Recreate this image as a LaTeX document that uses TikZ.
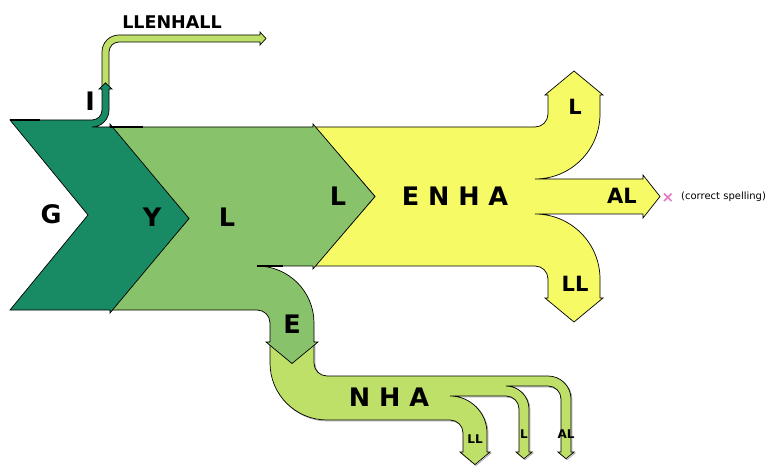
\documentclass[tikz,border=0pt]{standalone}
\usepackage{fontspec}
\setmainfont{DejaVu Sans}
\definecolor{dkgreen}{HTML}{188A64}
\definecolor{mdgreen}{HTML}{88C26A}
\definecolor{yel}{HTML}{F6FA64}
\definecolor{ltgreen}{HTML}{BFE068}
\definecolor{pinkx}{HTML}{E377C2}
\tikzset{
  flow/.style={draw=black, line width=0.7pt, line join=miter},
  big/.style={inner sep=0pt, font=\bfseries\fontsize{25.5}{25.5}\selectfont},
  mid/.style={inner sep=0pt, font=\bfseries\fontsize{21}{21}\selectfont},
  sml/.style={inner sep=0pt, font=\bfseries\fontsize{12}{12}\selectfont},
  thk/.style={draw=black, line width=1.6pt},
}
\newcommand\nhapath{(270,342) -- (292,363) -- (314,342) -- (314,363)
  .. controls (314,370.2) and (319.8,376) .. (327,376) -- (548,376)
  .. controls (560.7,376) and (571,386.3) .. (571,399) -- (571,452) -- (574,452) -- (566,458.7) -- (558,452) -- (561,452) -- (561,399)
  .. controls (561,391.8) and (555.2,386) .. (548,386) -- (506,386)
  .. controls (518.7,386) and (529,396.3) .. (529,409) -- (529,452) -- (532,452) -- (524,458.7) -- (516,452) -- (519,452) -- (519,409)
  .. controls (519,401.8) and (513.2,396) .. (506,396) -- (450,396)
  .. controls (470.4,396) and (487,412.6) .. (487,433) -- (487,452) -- (490,452) -- (475,464.6) -- (460,452) -- (463,452) -- (463,433)
  .. controls (463,425.8) and (457.2,420) .. (450,420) -- (327,420)
  .. controls (295.5,420) and (270,394.5) .. (270,363) -- cycle}
\begin{document}
\begin{tikzpicture}[x=1pt,y=-1pt]
\useasboundingbox (0,0) rectangle (772,476);
% LLENHALL flow (light green)
\path[flow, fill=ltgreen] (102,89) -- (102,52) .. controls (102,42.6) and (109.6,35) .. (119,35) -- (260,35) -- (260,32) -- (266,38.5) -- (260,45) -- (260,42) -- (119,42) .. controls (113.5,42) and (109,46.5) .. (109,52) -- (109,89) -- (105.5,83) -- cycle;
% NHA flow (light green) with faint shadow
\path[draw=black!35, line width=0.8pt, shift={(1,1)}] \nhapath;
\path[flow, fill=ltgreen] \nhapath;
% Yellow
\path[flow, fill=yel] (315,127) -- (535,127) .. controls (542.2,127) and (548,121.2) .. (548,114) -- (548,95) -- (545,95) -- (574,71) -- (603,95) -- (600,95) -- (600,114)
  .. controls (600,149.9) and (570.9,179) .. (535,179) -- (643,179) -- (643,175) -- (660,196.5) -- (643,218) -- (643,214) -- (535,214)
  .. controls (570.9,214) and (600,243.1) .. (600,279) -- (600,298) -- (603,298) -- (574,322) -- (545,298) -- (548,298) -- (548,279)
  .. controls (548,271.8) and (542.2,266) .. (535,266) -- (315,266) -- (375,196.5) -- cycle;
% Medium green
\path[flow, fill=mdgreen] (110,127) -- (313,127) -- (313,124) -- (375,196.5) -- (313,269) -- (313,266) -- (257,266)
  .. controls (288.5,266) and (314,291.5) .. (314,323) -- (314,342) -- (318,342) -- (292,363.5) -- (266,342) -- (270,342) -- (270,323)
  .. controls (270,315.8) and (264.2,310) .. (257,310) -- (110,310) -- (189,218.5) -- cycle;
% Dark green
\path[flow, fill=dkgreen] (10,120) -- (92,120) .. controls (97.5,120) and (102,115.5) .. (102,110) -- (102,89) -- (99,89) -- (105.5,83) -- (112,89) -- (109,89) -- (109,110)
  .. controls (109,119.4) and (101.4,127) .. (92,127) -- (110,127) -- (110,124) -- (189,218.5) -- (110,313) -- (110,310) -- (10,310) -- (88,215) -- cycle;
% overlapping outline segments
\coordinate (t1a) at (10,120); \coordinate (t1b) at (40,120);
\coordinate (t2a) at (110,127); \coordinate (t2b) at (143,127);
\coordinate (t3a) at (257,266); \coordinate (t3b) at (283,266);
\draw[thk] (t1a) -- (t1b);
\draw[thk] (t2a) -- (t2b);
\draw[thk] (t3a) -- (t3b);
% labels
\node[inner sep=0pt, font=\bfseries\fontsize{17.5}{17.5}\selectfont] (llenhall) at (172,22) {LLENHALL};
\node[big] (lI) at (90,101) {I};
\node[big] (lG) at (51,214) {G};
\node[big] (lY) at (152,217) {Y};
\node[big] (lL1) at (227,217) {L};
\node[big] (lL2) at (338,196) {L};
\node[big] (lE) at (292,324) {E};
\node[big] (lENHA) at (455,196) {E N H A};
\node[mid] (lLup) at (575,107) {L};
\node[mid] (lAL) at (622,196) {AL};
\node[mid] (lLL) at (575,284) {LL};
\node[big] (lNHA) at (389,397) {N H A};
\node[sml] (sLL) at (475,439) {LL};
\node[sml] (sL) at (524,434) {L};
\node[sml] (sAL) at (566,434) {AL};
\node[inner sep=0pt, text=pinkx, font=\bfseries\fontsize{15}{15}\selectfont] (mark) at (668,197.5) {×};
\node[inner sep=0pt, anchor=west, font=\fontsize{10}{10}\selectfont] (note) at (681,197) {(correct spelling)};
\end{tikzpicture}
\end{document}
